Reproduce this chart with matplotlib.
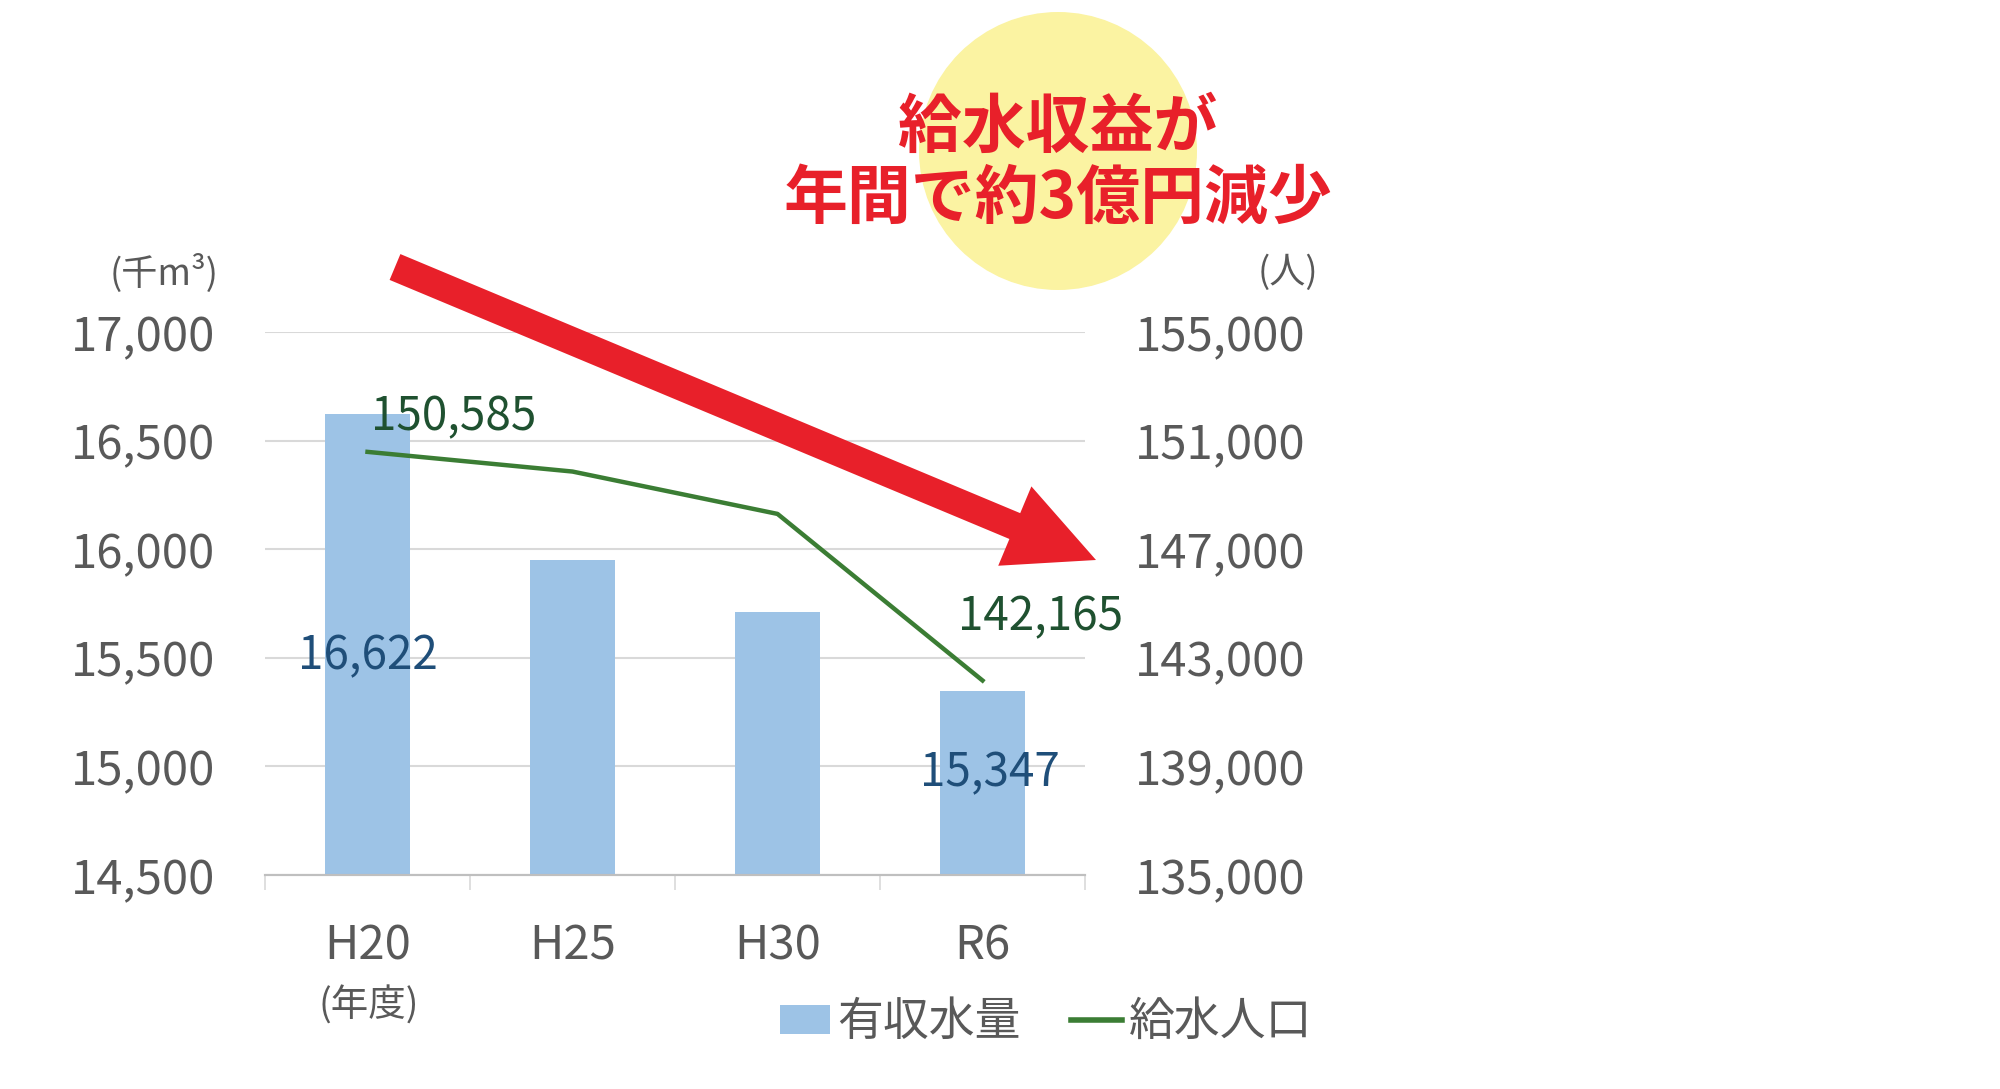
import numpy as np
import matplotlib
import matplotlib.pyplot as plt
from matplotlib.patches import Ellipse, FancyArrow, Patch
from matplotlib.lines import Line2D

plt.rcParams['font.family'] = ['Noto Sans CJK JP', 'DejaVu Sans']

# data
years = ['H20', 'H25', 'H30', 'R6']
volume = [16622, 15950, 15713, 15347]          # 有収水量 (千m3)
population = [150585, 149860, 148300, 142165]  # 給水人口 (人)
volume_ticks = [14500, 15000, 15500, 16000, 16500, 17000]
pop_ticks = [135000, 139000, 143000, 147000, 151000, 155000]

bar_color = '#9dc3e6'
line_color = '#3b7d34'
tick_gray = '#595959'

W, H = 2000, 1089
fig = plt.figure(figsize=(W / 100, H / 100), dpi=100)
ax = fig.add_axes([265 / W, 1 - 875 / H, (1085 - 265) / W, (875 - 332) / H])
ax2 = ax.twinx()

x = np.arange(len(years))
ax.bar(x, volume, width=0.41, color=bar_color, zorder=2)
ax.set_ylim(14500, 17000)
ax.set_xlim(-0.5, len(years) - 0.5)
ax.set_yticks(volume_ticks)
ax.set_yticklabels([f'{v:,}' for v in volume_ticks])
ax.yaxis.grid(True, color='#d9d9d9', linewidth=1.5, zorder=0)
ax.set_axisbelow(True)

ax2.plot(x, population, color=line_color, linewidth=3.2, zorder=3)
ax2.set_ylim(135000, 155000)
ax2.set_yticks(pop_ticks)
ax2.set_yticklabels([f'{v:,}' for v in pop_ticks])

for a in (ax, ax2):
    for s in ('top', 'left', 'right'):
        a.spines[s].set_visible(False)
    a.spines['bottom'].set_color('#bfbfbf')
    a.spines['bottom'].set_linewidth(1.5)
    a.tick_params(axis='y', length=0, labelsize=34, labelcolor=tick_gray, pad=36)

ax.set_xticks(x)
ax.set_xticklabels(years)
ax.set_xticks(np.arange(len(years) + 1) - 0.5, minor=True)
ax.tick_params(axis='x', which='major', length=0, labelsize=34, labelcolor=tick_gray, pad=34)
ax.tick_params(axis='x', which='minor', length=11, width=1.2, color='#d9d9d9')

# data labels
ax2.annotate(f'{population[0]:,}', xy=(x[0], population[0]), xytext=(62, 25),
             textcoords='offset points', ha='center', va='center', fontsize=33, color='#1f5130')
ax2.annotate(f'{population[-1]:,}', xy=(x[-1], population[-1]), xytext=(42, 46),
             textcoords='offset points', ha='center', va='center', fontsize=33, color='#1f5130')
ax.annotate(f'{volume[0]:,}', xy=(x[0], volume[0]), xytext=(0, -174),
            textcoords='offset points', ha='center', va='center', fontsize=33, color='#1f4e79')
ax.annotate(f'{volume[-1]:,}', xy=(x[-1], volume[-1]), xytext=(5, -59),
            textcoords='offset points', ha='center', va='center', fontsize=33, color='#1f4e79')

# unit labels
fig.text(164 / W, 1 - 273 / H, '(千m³)', fontsize=26, color=tick_gray, ha='center', va='center')
fig.text(1288 / W, 1 - 273 / H, '(人)', fontsize=26, color=tick_gray, ha='center', va='center')
fig.text(369 / W, 1 - 1006 / H, '(年度)', fontsize=27, color=tick_gray, ha='center', va='center')

# legend
handles = [Patch(facecolor=bar_color, edgecolor='none'),
           Line2D([0], [0], color=line_color, linewidth=4)]
fig.legend(handles, ['有収水量', '給水人口'], loc='center', bbox_to_anchor=(1046 / W, 1 - 1022 / H),
           ncol=2, frameon=False, fontsize=33, handlelength=1.1, handleheight=0.6,
           handletextpad=0.15, columnspacing=1.1, labelcolor=tick_gray)

# overlay: yellow circle, red arrow, callout text
ov = fig.add_axes([0, 0, 1, 1])
ov.set_xlim(0, W)
ov.set_ylim(H, 0)
ov.axis('off')
ov.add_patch(Ellipse((1058, 151), 278, 278, facecolor='#fbf3a2', edgecolor='none'))
ov.add_patch(FancyArrow(395, 267, 1096 - 395, 560 - 267, width=28, head_width=86,
                        head_length=88, length_includes_head=True,
                        facecolor='#e8202a', edgecolor='none'))
ov.text(1058, 128, '給水収益が', fontsize=46, fontweight='bold', color='#e8202a',
        ha='center', va='center')
ov.text(1058, 199, '年間で約3億円減少', fontsize=46, fontweight='bold', color='#e8202a',
        ha='center', va='center')

fig.savefig('out.png', dpi=100)
